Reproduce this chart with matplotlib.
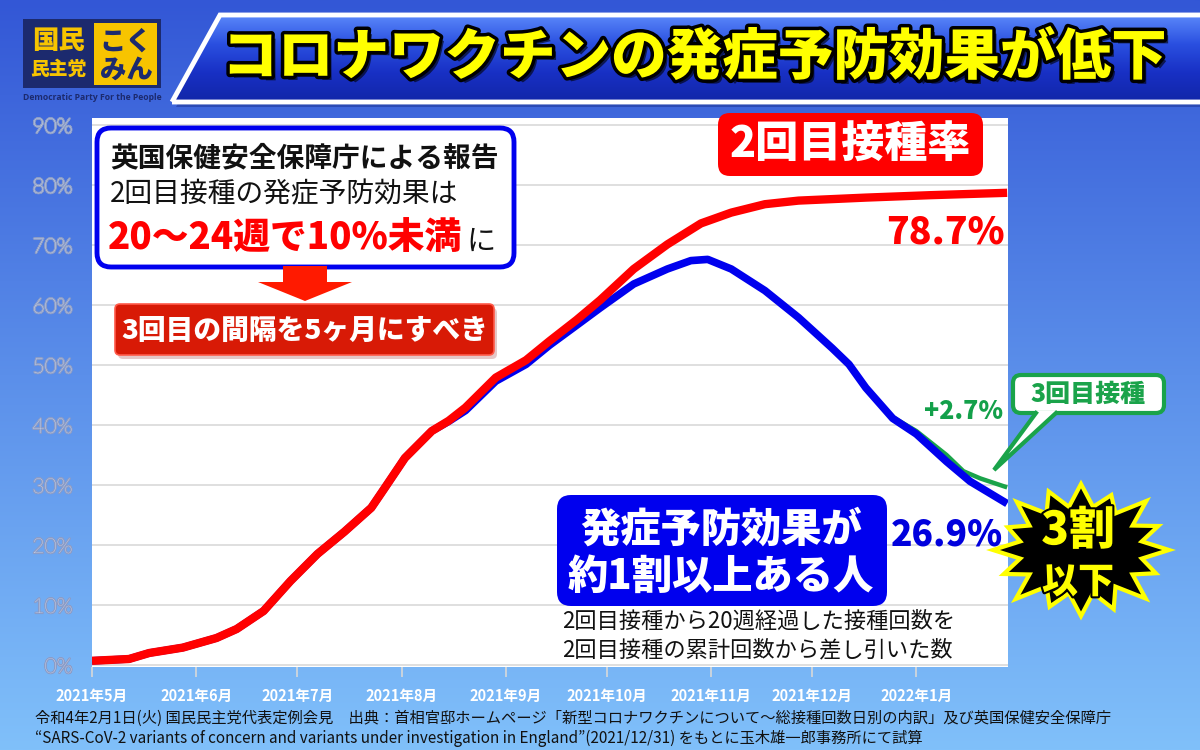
import matplotlib
matplotlib.use('Agg')
import matplotlib.pyplot as plt
import matplotlib.dates as mdates
import matplotlib.patheffects as pe
from matplotlib.patches import FancyBboxPatch, Polygon, Rectangle
from matplotlib.colors import LinearSegmentedColormap
import numpy as np
import pandas as pd

plt.rcParams['font.family'] = ['Noto Sans CJK JP', 'DejaVu Sans']

# ---------------- data ----------------
dose2_dates = ['2021-05-01', '2021-05-12', '2021-05-18', '2021-05-28', '2021-06-07',
               '2021-06-13', '2021-06-21', '2021-06-29', '2021-07-07', '2021-07-15',
               '2021-07-23', '2021-07-27', '2021-08-02', '2021-08-10', '2021-08-15',
               '2021-08-20', '2021-08-29', '2021-09-07', '2021-09-14', '2021-09-22',
               '2021-09-29', '2021-10-09', '2021-10-19', '2021-10-29', '2021-11-07',
               '2021-11-17', '2021-11-27', '2021-12-17', '2022-01-05', '2022-01-28']
dose2_rate = [0.7, 1.0, 2.0, 2.9, 4.5, 6.0, 9.0, 14.0, 18.5, 22.2,
              26.2, 29.5, 34.5, 39.0, 40.7, 42.9, 47.9, 50.8, 54.0, 57.5,
              60.8, 66.0, 70.1, 73.6, 75.4, 76.8, 77.4, 77.9, 78.3, 78.7]

effective_dates = ['2021-05-01', '2021-05-12', '2021-05-18', '2021-05-28', '2021-06-07',
                   '2021-06-13', '2021-06-21', '2021-06-29', '2021-07-07', '2021-07-15',
                   '2021-07-23', '2021-07-27', '2021-08-02', '2021-08-10', '2021-08-15',
                   '2021-08-20', '2021-08-29', '2021-09-07', '2021-09-14', '2021-09-22',
                   '2021-09-29', '2021-10-09', '2021-10-19', '2021-10-26', '2021-10-31',
                   '2021-11-07', '2021-11-17', '2021-11-27', '2021-12-07', '2021-12-12',
                   '2021-12-17', '2021-12-25', '2022-01-01', '2022-01-10', '2022-01-17',
                   '2022-01-28']
effective_rate = [0.7, 1.0, 2.0, 2.9, 4.5, 6.0, 9.0, 14.0, 18.5, 22.2,
                  26.2, 29.5, 34.5, 39.0, 40.6, 42.4, 47.3, 50.1, 53.3, 56.6,
                  59.5, 63.5, 66.0, 67.4, 67.6, 66.0, 62.4, 57.9, 52.8, 50.1,
                  46.2, 41.1, 38.5, 33.9, 30.6, 26.9]

booster_dates = ['2021-12-22', '2021-12-25', '2022-01-01', '2022-01-10', '2022-01-15',
                 '2022-01-20', '2022-01-28']
booster_rate = [43.1, 41.3, 39.0, 35.0, 32.3, 31.1, 29.6]

month_ticks = ['2021-05-01', '2021-06-01', '2021-07-01', '2021-08-01', '2021-09-01',
               '2021-10-01', '2021-11-01', '2021-12-01', '2022-01-01']
month_labels = ['2021年5月', '2021年6月', '2021年7月', '2021年8月', '2021年9月',
                '2021年10月', '2021年11月', '2021年12月', '2022年1月']
y_ticks = [0, 10, 20, 30, 40, 50, 60, 70, 80, 90]
y_labels = ['0%', '10%', '20%', '30%', '40%', '50%', '60%', '70%', '80%', '90%']

# ---------------- figure ----------------
W, H = 1200, 750
fig = plt.figure(figsize=(12, 7.5), dpi=100)

# background gradient
bg = fig.add_axes([0, 0, 1, 1], zorder=0)
bg_cmap = LinearSegmentedColormap.from_list('bg', ['#3357d6', '#5b8fea', '#80c0fa'])
bg.imshow(np.linspace(0, 1, 256).reshape(-1, 1), cmap=bg_cmap, aspect='auto',
          extent=[0, 1, 0, 1], origin='upper')
bg.axis('off')

# main plot axes (white area)
L, R, T, B = 92, 1008, 118, 667
ax = fig.add_axes([L / W, (H - B) / H, (R - L) / W, (B - T) / H], zorder=1)
ax.set_facecolor('white')

d2 = pd.to_datetime(dose2_dates)
ef = pd.to_datetime(effective_dates)
bo = pd.to_datetime(booster_dates)

ax.plot(bo, booster_rate, color='#1aa34a', lw=3.2, solid_capstyle='butt', zorder=3)
ax.plot(ef, effective_rate, color='#0000ee', lw=5.5, solid_capstyle='butt', zorder=4)
ax.plot(d2, dose2_rate, color='#ff0000', lw=6, solid_capstyle='butt', zorder=5)

ax.set_xlim(pd.Timestamp('2021-05-01'), pd.Timestamp('2022-01-28 06:00'))
ax.set_ylim(-(B - 665) / 6.0, (665 - T) / 6.0)
ax.set_yticks(y_ticks)
ax.set_yticklabels(y_labels)
ax.set_xticks(pd.to_datetime(month_ticks))
ax.set_xticklabels(month_labels)
ax.grid(axis='y', color='#dcdcdc', lw=1.3)
ax.set_axisbelow(True)
for s in ax.spines.values():
    s.set_visible(False)
ax.tick_params(axis='x', length=7, color='#d8d8d8', width=1.2, pad=8,
               labelsize=10.5, labelcolor='white')
for lab in ax.get_xticklabels():
    lab.set_fontweight('bold')
ax.tick_params(axis='y', length=0, pad=14)
for lab in ax.get_yticklabels():
    lab.set_family(['Lato', 'DejaVu Sans'])
    lab.set_fontweight('light')
    lab.set_fontsize(15)
    lab.set_color('white')
    lab.set_path_effects([pe.Stroke(linewidth=1.6, foreground='#8a9cc8'), pe.Normal()])

# overlay axes in pixel coordinates for decorations
ov = fig.add_axes([0, 0, 1, 1], zorder=2)
ov.patch.set_alpha(0)
ov.axis('off')

# ---- title bar ----
bar = Polygon([(172, 102), (220, 15), (1205, 15), (1205, 102)], closed=True,
              fc='none', ec='white', lw=3.5, zorder=3)
shadow = Polygon([(176, 107), (224, 20), (1205, 20), (1205, 107)], closed=True,
                 fc='#0a1a70', ec='none', alpha=0.35, zorder=1)
ov.add_patch(shadow)
bar_cmap = LinearSegmentedColormap.from_list('bar', ['#5a88fa', '#2a4fe0', '#1830c4', '#1226a8'])
im = ov.imshow(np.linspace(0, 1, 128).reshape(-1, 1), cmap=bar_cmap, aspect='auto',
               extent=[172, 1205, 102, 15], origin='upper', zorder=2)
clip = Polygon([(172, 102), (220, 15), (1205, 15), (1205, 102)], closed=True,
               transform=ov.transData)
im.set_clip_path(clip)
ov.add_patch(bar)
ov.text(694, 58, 'コロナワクチンの発症予防効果が低下', fontsize=40, color='#ffff00',
        fontweight='heavy', ha='center', va='center', zorder=5,
        path_effects=[pe.withSimplePatchShadow(offset=(3, -3), shadow_rgbFace='#000000', alpha=0.6),
                      pe.Stroke(linewidth=5, foreground='black'), pe.Normal()])

# ---- logo ----
ov.add_patch(Rectangle((23, 19), 138, 69, fc='#1c2a6e', ec='none', zorder=3))
ov.add_patch(Rectangle((94, 23), 63, 62, fc='#f7c400', ec='none', zorder=4))
ov.text(58, 41, '国民', fontsize=19, color='#f7c400', fontweight='heavy',
        ha='center', va='center', zorder=5)
ov.text(58, 69, '民主党', fontsize=13.5, color='#f7c400', fontweight='heavy',
        ha='center', va='center', zorder=5)
ov.text(126, 41, 'こく', fontsize=19, color='#1c2a6e', fontweight='heavy',
        ha='center', va='center', zorder=5)
ov.text(126, 69, 'みん', fontsize=19, color='#1c2a6e', fontweight='heavy',
        ha='center', va='center', zorder=5)
ov.text(92, 97, 'Democratic Party For the People', fontsize=6.2, color='#1c2a6e',
        fontweight='bold', ha='center', va='center', family=['Open Sans', 'DejaVu Sans'], zorder=5)

# ---- top-left info box ----
ov.add_patch(FancyBboxPatch((97, 128), 417, 139, boxstyle='round,pad=0,rounding_size=14',
                            fc='white', ec='#0000ee', lw=3.5, zorder=3))
ov.text(110, 158, '英国保健安全保障庁による報告', fontsize=20, fontweight='bold',
        color='#111111', ha='left', va='center', zorder=4)
ov.text(110, 194, '2回目接種の発症予防効果は', fontsize=20, color='#111111',
        ha='left', va='center', zorder=4)
t3 = ov.text(108, 249, '20〜24週で10%未満', fontsize=26.5, fontweight='heavy',
             color='#ff0000', ha='left', va='baseline', zorder=4)
ov.annotate('に', xy=(1, 0), xycoords=t3, xytext=(3, 0), textcoords='offset points',
            fontsize=21, color='#111111', ha='left', va='bottom', zorder=4)

# arrow
ov.add_patch(Polygon([(283, 266), (327, 266), (327, 282), (352, 282), (305, 301),
                      (258, 282), (283, 282)], closed=True, fc='#ff1a00', ec='none', zorder=3))

# red recommendation box
ov.add_patch(FancyBboxPatch((118, 308), 379, 51, boxstyle='round,pad=0,rounding_size=5',
                            fc='#d9b0b0', ec='none', alpha=0.7, zorder=3))
ov.add_patch(FancyBboxPatch((115, 304), 379, 51, boxstyle='round,pad=0,rounding_size=5',
                            fc='#d81a06', ec='#ff5a4a', lw=1.2, zorder=4))
ov.text(305, 331, '3回目の間隔を5ヶ月にすべき', fontsize=20, fontweight='heavy',
        color='white', ha='center', va='center', zorder=5)

# "2回目接種率" label
ov.add_patch(FancyBboxPatch((718, 113), 265, 63, boxstyle='round,pad=0,rounding_size=12',
                            fc='#ff0000', ec='none', zorder=3))
ov.text(850, 145, '2回目接種率', fontsize=31, fontweight='heavy', color='white',
        ha='center', va='center', zorder=4)

# value labels
ov.text(1005, 233, '78.7%', fontsize=27, fontweight='heavy', color='#ff0000',
        ha='right', va='center', zorder=4)
ov.text(1003, 535, '26.9%', fontsize=25.5, fontweight='heavy', color='#0000dd',
        ha='right', va='center', zorder=4)
ov.text(1003, 411, '+2.7%', fontsize=18, fontweight='heavy', color='#13a04a',
        ha='right', va='center', zorder=4)

# blue box
ov.add_patch(FancyBboxPatch((557, 495), 330, 111, boxstyle='round,pad=0,rounding_size=14',
                            fc='#0000ee', ec='none', zorder=3))
ov.text(721, 530, '発症予防効果が', fontsize=29, fontweight='heavy', color='white',
        ha='center', va='center', zorder=4)
ov.text(721, 577, '約1割以上ある人', fontsize=29, fontweight='heavy', color='white',
        ha='center', va='center', zorder=4)

# note text
ov.text(562, 621, '2回目接種から20週経過した接種回数を', fontsize=16, color='#111111',
        ha='left', va='center', zorder=4)
ov.text(562, 650, '2回目接種の累計回数から差し引いた数', fontsize=16, color='#111111',
        ha='left', va='center', zorder=4)

# "3回目接種" callout
green = '#1aa34a'
ov.add_patch(FancyBboxPatch((1013, 375), 151, 38, boxstyle='round,pad=0,rounding_size=8',
                            fc='white', ec=green, lw=3, zorder=3))
ov.add_patch(Polygon([(1036, 411), (1056, 411), (994, 470)], closed=True,
                     fc='white', ec='none', zorder=4))
ov.plot([1036, 994, 1056], [413, 470, 413], color=green, lw=3, zorder=5,
        solid_joinstyle='miter')
ov.text(1088, 394, '3回目接種', fontsize=18, fontweight='heavy', color=green,
        ha='center', va='center', zorder=5)

# starburst
cx, cy = 1081, 550
n = 16
rf = [1.0, 0.9, 1.05, 0.95, 1.0, 0.92, 1.04, 0.97, 1.0, 0.93, 1.05, 0.95, 1.0, 0.9, 1.03, 0.96]
pts = []
for i in range(2 * n):
    a = np.pi * i / n - np.pi / 2
    if i % 2 == 0:
        rx, ry = 88 * rf[i // 2], 66 * rf[i // 2]
    else:
        rx, ry = 62, 44
    pts.append((cx + rx * np.cos(a), cy + ry * np.sin(a)))
ov.add_patch(Polygon(pts, closed=True, fc='black', ec='#ffff00', lw=3, zorder=6))
ov.text(1078, 531, '3割', fontsize=33, fontweight='heavy', color='#ffff00',
        ha='center', va='center', zorder=7,
        path_effects=[pe.Stroke(linewidth=3, foreground='black'), pe.Normal()])
ov.text(1078, 582, '以下', fontsize=26, fontweight='heavy', color='#ffff00',
        ha='center', va='center', zorder=7,
        path_effects=[pe.Stroke(linewidth=3, foreground='black'), pe.Normal()])

# footer
ov.text(35, 718, '令和4年2月1日(火) 国民民主党代表定例会見　出典：首相官邸ホームページ「新型コロナワクチンについて～総接種回数日別の内訳」及び英国保健安全保障庁',
        fontsize=11, color='#111111', ha='left', va='center', zorder=4)
ov.text(35, 738, '“SARS-CoV-2 variants of concern and variants under investigation in England”(2021/12/31) をもとに玉木雄一郎事務所にて試算',
        fontsize=11, color='#111111', ha='left', va='center', zorder=4)

ov.set_xlim(0, W)
ov.set_ylim(H, 0)

fig.savefig('out.png', dpi=100)
